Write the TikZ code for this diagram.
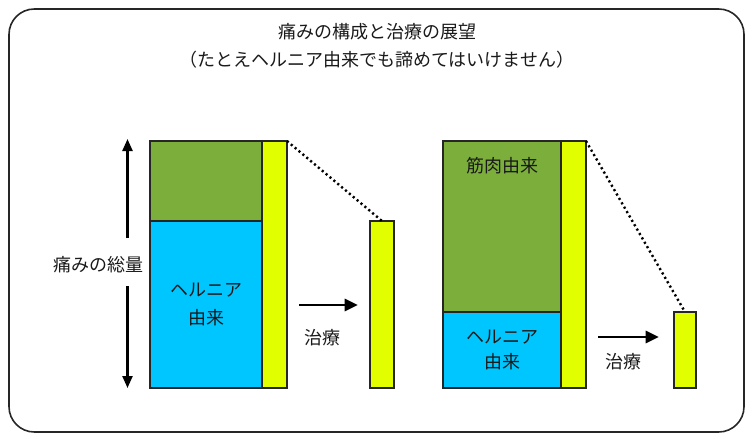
\documentclass[tikz,border=0pt]{standalone}
\usepackage{fontspec}
\setmainfont{Noto Sans CJK JP}
\usetikzlibrary{arrows.meta,positioning}
\definecolor{mygreen}{HTML}{7BAE3B}
\definecolor{myblue}{HTML}{00C6FF}
\definecolor{myyellow}{HTML}{E2FF00}
\definecolor{txt}{HTML}{1A1A1A}
\tikzset{
  box/.style={draw=black!85, line width=1.1pt, rectangle, inner sep=0pt, outer sep=0pt},
  jtext/.style={text=txt, inner sep=0pt, font=\fontsize{13.5pt}{16pt}\selectfont},
  bigarrow/.style={line width=2.2pt, -{Triangle[length=10pt,width=9pt]}},
  vertarrow/.style={line width=1.7pt, -{Triangle[length=9pt,width=7.5pt]}},
  dotline/.style={line width=1.8pt, dash pattern=on 1.6pt off 2.2pt}
}
\begin{document}
\begin{tikzpicture}[x=0.75pt,y=-0.75pt]
\useasboundingbox (0,0) rectangle (754,439);
\draw[line width=1.2pt, draw=black!85, rounded corners=19pt] (9,9) rectangle (744,432);
% titles
\node[jtext] (t1) at (377,32) {痛みの構成と治療の展望};
\node[jtext] (t2) at (377,60) {（たとえヘルニア由来でも諦めてはいけません）};
% left stack
\node[box, fill=mygreen, minimum width=84pt, minimum height=60pt] (lg) at (206,181) {};
\node[box, fill=myblue, minimum width=84pt, minimum height=125.25pt, align=center, text=txt,
      font=\fontsize{13.5pt}{21pt}\selectfont] (lb) at (206,304.5) {ヘルニア\\由来};
\node[box, fill=myyellow, minimum width=18.75pt, minimum height=185.25pt] (ly) at (274.5,264.5) {};
\node[box, fill=myyellow, minimum width=18pt, minimum height=125.25pt] (ls) at (382,304.5) {};
\draw[dotline] (ly.north east) -- (ls.north);
% total label and arrows
\node[jtext] (total) at (98,265) {痛みの総量};
\coordinate (vtop) at (127.5,139);
\coordinate (vbot) at (127.5,388);
\coordinate (vtopS) at (127.5,238);
\coordinate (vbotS) at (127.5,286);
\draw[vertarrow] (vtopS) -- (vtop);
\draw[vertarrow] (vbotS) -- (vbot);
% left treatment arrow
\coordinate (la1) at (299,305);
\coordinate (la2) at (358,305);
\draw[bigarrow] (la1) -- (la2);
\node[jtext] (ltr) at (322,338) {治療};
% right stack
\node[box, fill=mygreen, minimum width=88.5pt, minimum height=128.25pt] (rg) at (502,226.5) {};
\node[jtext] (muscle) at (502,166) {筋肉由来};
\node[box, fill=myblue, minimum width=88.5pt, minimum height=57pt, align=center, text=txt,
      font=\fontsize{13.5pt}{18.75pt}\selectfont] (rb) at (502,350) {ヘルニア\\由来};
\node[box, fill=myyellow, minimum width=18.75pt, minimum height=185.25pt] (ry) at (573.5,264.5) {};
\node[box, fill=myyellow, minimum width=16.5pt, minimum height=57pt] (rs) at (685,350) {};
\draw[dotline] (ry.north east) -- (rs.north);
% right treatment arrow
\coordinate (ra1) at (598,337);
\coordinate (ra2) at (659,337);
\draw[bigarrow] (ra1) -- (ra2);
\node[jtext] (rtr) at (623,362) {治療};
\end{tikzpicture}
\end{document}
